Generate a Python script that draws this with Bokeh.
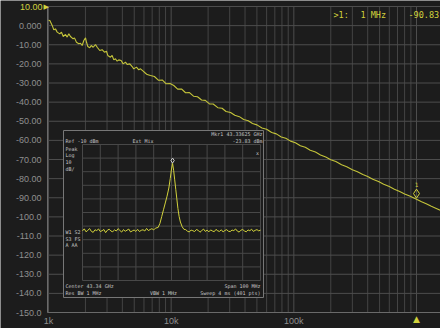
from bokeh.plotting import figure
from bokeh.models import Range1d, LinearScale, LogScale, FixedTicker, Label, LinearAxis, LogAxis
from bokeh.embed import file_html
from bokeh.resources import INLINE

# ---------------- data ----------------
# main trace: phase noise (dBc/Hz) versus offset frequency (Hz)
offset_hz = [1000, 1026, 1072, 1105, 1140, 1177, 1236, 1276, 1318, 1376, 1420, 1465, 1511,
             1588, 1629, 1690, 1766, 1822, 1882, 1941, 2004, 2042, 2091, 2172, 2229, 2313,
             2415, 2493, 2618, 2736, 2858, 2970, 3043, 3198, 3302, 3407, 3513, 3628, 3742,
             3909, 4063, 4246, 4375, 4600, 4806, 4955, 5212, 5445, 5623, 5915, 6180, 6374,
             6776, 7300, 7900, 8500, 9100, 9800, 10500, 11300, 12200, 13100, 14100, 15200,
             16400, 17700, 19000, 20500, 22000, 24000, 26000, 28000, 30500, 33000, 36000,
             39000, 42500, 46000, 50000, 55000, 60000, 66000, 72000, 79000, 86000, 94000,
             103000, 113000, 124000, 136000, 150000, 165000, 182000, 200000, 220000, 245000,
             270000, 300000, 330000, 365000, 400000, 440000, 490000, 540000, 600000, 660000,
             730000, 800000, 880000, 960000, 1000000, 1100000, 1200000, 1320000, 1450000,
             1600000]
noise_dbc = [2.8, 2.7, 0.1, -2.2, -1.7, -3.4, -4.3, -3.4, -5.7, -4.6, -6.0, -4.3, -5.7,
             -6.9, -6.4, -8.7, -9.5, -9.2, -10.4, -7.8, -6.4, -8.7, -10.9, -11.6, -10.4, -11.3,
             -9.9, -11.3, -13.0, -12.6, -13.9, -13.4, -15.6, -16.5, -15.6, -17.9, -17.3, -18.6, -17.9,
             -18.2, -20.0, -19.1, -20.3, -20.0, -21.4, -22.6, -21.7, -23.1, -22.6, -23.8, -24.9, -25.6,
             -26.1, -26.6, -28.6, -28.5, -30.4, -30.3, -31.3, -33.2, -33.2, -35.1, -35.0, -36.9,
             -37.2, -38.9, -39.1, -40.9, -41.0, -42.9, -43.2, -44.9, -45.4, -46.9, -47.6,
             -49.1, -49.7, -51.2, -51.9, -53.5, -54.2, -55.9, -56.6, -58.2, -58.9, -60.4,
             -61.2, -62.8, -63.6, -65.2, -66.1, -67.6, -68.7, -70.1, -71.1, -72.7,
             -73.8, -75.3, -76.4, -77.9, -78.9, -80.3, -81.5, -82.9, -84.1, -85.5,
             -86.7, -88.0, -89.1, -90.3, -90.83, -92.1, -93.1, -94.5, -95.6,
             -96.9]

y_ticks = [10, 0, -10, -20, -30, -40, -50, -60, -70, -80, -90, -100, -110, -120, -130, -140, -150]
y_tick_labels = ["", "0.000", "-10.00", "-20.00", "-30.00", "-40.00", "-50.00", "-60.00", "-70.00",
                 "-80.00", "-90.00", "-100.0", "-110.0", "-120.0", "-130.0", "-140.0", "-150.0"]
ref_level = 10
ref_label = "10.00"
x_ticks = [1000, 10000, 100000, 1000000]
x_tick_labels = ["1k", "10k", "100k", ""]

marker_freq = 1000000
marker_level = -90.83
readout = [">1:", "1 MHz", "-90.83"]

# inset: spectrum, offset from left edge of span (MHz) vs level (dBm)
floor_left_mhz = list(range(0, 42))
floor_left_dbm = [-73.5, -72.0, -74.2, -73.1, -71.8, -73.9, -74.6, -72.7, -73.3, -72.1,
                  -74.0, -73.4, -72.5, -74.8, -73.0, -72.3, -73.7, -74.1, -72.8, -73.6,
                  -71.9, -73.2, -74.4, -72.6, -73.8, -73.0, -72.2, -74.3, -73.5, -72.9,
                  -73.9, -72.4, -74.0, -73.1, -72.7, -73.6, -71.7, -73.3, -72.5, -71.9,
                  -72.8, -71.5]
peak_mhz_pts = [42.5, 43.5, 44.5, 45.5, 46.5, 47.5, 48.5, 49.3, 50.0, 50.6, 51.2, 51.8, 52.4,
                53.0, 53.6, 54.3, 55.0, 56.0, 57.0]
peak_dbm_pts = [-71.0, -68.0, -63.0, -58.0, -53.0, -48.0, -42.0, -35.0, -28.0, -23.83, -29.0,
                -36.0, -43.0, -50.0, -57.0, -63.0, -67.0, -70.5, -72.4]
floor_right_mhz = list(range(58, 101))
floor_right_dbm = [-72.6, -73.8, -74.3, -72.9, -73.4, -74.0, -72.5, -73.1, -74.5, -73.3,
                   -72.2, -73.9, -73.0, -74.2, -72.8, -73.6, -74.1, -72.4, -73.5, -73.9,
                   -72.7, -74.3, -73.2, -72.6, -73.8, -74.0, -72.9, -73.3, -72.1, -73.7,
                   -74.4, -73.0, -72.5, -73.6, -74.2, -72.8, -73.4, -72.3, -73.9, -73.1,
                   -72.6, -73.5, -73.0]
peak_mhz = 50.6
peak_dbm = -23.83
inset_ref_dbm = -10
inset_div_db = 10
inset_span_mhz = 100

spec_mhz = floor_left_mhz + peak_mhz_pts + floor_right_mhz
spec_dbm = floor_left_dbm + peak_dbm_pts + floor_right_dbm

# ---------------- layout ----------------
W, H = 440, 328
FL, FR, FT, FB = 47, 440, 6, 312      # plot area in pixels
X1K_PX, DECADE_PX = 48, 122.67
GL, GR, GT, GB = 82, 260, 144, 280    # inset graticule in pixels

BG = "#1c1c1c"
GRID = "#4d4d4d"
MINOR = "#444444"
YEL = "#d2d23c"
TRACE = "#c4c43a"
TXT = "#8f8f8f"
ITXT = "#c4c4c4"

y_top, y_bot = 10, -150


def mx(px):
    return 10 ** (3 + (px - X1K_PX) / DECADE_PX)


def my(py):
    return y_top - (py - FT) * (y_top - y_bot) / (FB - FT)


mhz_px = inset_span_mhz / (GR - GL)
db_px = 10 * inset_div_db / (GB - GT)


def ix(px):
    return (px - GL) * mhz_px


def iy(py):
    return inset_ref_dbm - (py - GT) * db_px


x_left, x_right = mx(FL), mx(FR)

# the frame covers the whole canvas; axes are pinned at the plot-area edges
p = figure(width=W, height=H, x_axis_type=None, y_axis_type=None,
           x_range=Range1d(mx(0), mx(W)), y_range=Range1d(my(H), my(0)),
           output_backend="svg", toolbar_location=None,
           min_border=0, min_border_left=0, min_border_right=0, min_border_top=0,
           min_border_bottom=0,
           background_fill_color=BG, border_fill_color=BG, outline_line_color=None)
p.x_scale = LogScale()
p.extra_x_ranges = {"ix": Range1d(ix(0), ix(W))}
p.extra_x_scales = {"ix": LinearScale()}
p.extra_y_ranges = {"iy": Range1d(iy(H), iy(0))}
p.extra_y_scales = {"iy": LinearScale()}

minor = [k * d for d in (1000, 10000, 100000, 1000000) for k in range(2, 10)]
minor_in = [m for m in minor if x_left <= m <= x_right]

# grid (restricted to the plot area)
p.segment(x0=minor_in, y0=[y_bot] * len(minor_in), x1=minor_in, y1=[y_top] * len(minor_in),
          line_color=MINOR, line_width=1)
p.segment(x0=x_ticks, y0=[y_bot] * len(x_ticks), x1=x_ticks, y1=[y_top] * len(x_ticks),
          line_color=GRID, line_width=1)
p.segment(x0=[x_left] * len(y_ticks), y0=y_ticks, x1=[x_right] * len(y_ticks), y1=y_ticks,
          line_color=GRID, line_width=1)


def style_axis(ax, color, size, standoff):
    ax.major_tick_out = 0
    ax.major_tick_in = 0
    ax.minor_tick_out = 0
    ax.minor_tick_in = 0
    ax.major_label_text_color = color
    ax.major_label_text_font = "Liberation Sans"
    ax.major_label_text_font_size = size
    ax.major_label_standoff = standoff
    return ax


xaxis = LogAxis(fixed_location=y_bot, bounds=(x_left, x_right),
                ticker=FixedTicker(ticks=x_ticks, minor_ticks=[]),
                major_label_overrides=dict(zip(x_ticks, x_tick_labels)),
                axis_line_color="#6a6a6a")
p.add_layout(style_axis(xaxis, TXT, "9px", 3), "below")
yaxis = LinearAxis(fixed_location=x_left, bounds=(y_bot, y_top),
                   ticker=FixedTicker(ticks=y_ticks, minor_ticks=[]),
                   major_label_overrides=dict(zip(y_ticks, y_tick_labels)),
                   axis_line_color="#6a6a6a")
p.add_layout(style_axis(yaxis, TXT, "9px", 6), "left")

# main trace
p.line(offset_hz, noise_dbc, line_color=TRACE, line_width=1.1)

# marker on trace
p.scatter([marker_freq], [marker_level + 3.0], marker="diamond", size=9,
          fill_color=None, line_color=YEL, line_width=1)
p.add_layout(Label(x=marker_freq, y=marker_level + 6.5, text="1", text_color=YEL,
                   text_font="DejaVu Sans Mono", text_font_size="6px",
                   text_align="center", text_baseline="bottom"))
p.add_layout(Label(x=marker_freq, y=my(318), text="\u25b2", text_color=YEL,
                   text_font="DejaVu Sans", text_font_size="9px",
                   text_align="center", text_baseline="middle"))

# reference level label and arrow
p.add_layout(Label(x=mx(42), y=ref_level, text=ref_label, text_color=YEL,
                   text_font="Liberation Sans", text_font_size="9px",
                   text_align="right", text_baseline="middle"))
p.add_layout(Label(x=mx(48.5), y=ref_level, text="\u25b6", text_color=YEL,
                   text_font="DejaVu Sans", text_font_size="7px",
                   text_align="right", text_baseline="middle"))

# marker readout
for t, px in zip(readout, (333, 360, 408)):
    p.add_layout(Label(x=mx(px), y=my(14), text=t, text_color=YEL,
                       text_font="DejaVu Sans Mono", text_font_size="8.5px",
                       text_align="left", text_baseline="middle"))

# ---------------- inset ----------------
p.quad(left=ix(63), right=ix(263), top=iy(130), bottom=iy(297),
       x_range_name="ix", y_range_name="iy",
       fill_color=BG, line_color="#777777", line_width=1)
gx = [inset_span_mhz * i / 10 for i in range(11)]
gy = [inset_ref_dbm - inset_div_db * i for i in range(11)]
p.segment(x0=gx, y0=[gy[0]] * 11, x1=gx, y1=[gy[-1]] * 11,
          x_range_name="ix", y_range_name="iy", line_color="#484848", line_width=1)
p.segment(x0=[gx[0]] * 11, y0=gy, x1=[gx[-1]] * 11, y1=gy,
          x_range_name="ix", y_range_name="iy", line_color="#484848", line_width=1)
p.line(spec_mhz, spec_dbm, x_range_name="ix", y_range_name="iy",
       line_color=YEL, line_width=1)
p.scatter([peak_mhz], [peak_dbm + 2], marker="diamond", size=5,
          x_range_name="ix", y_range_name="iy",
          fill_color=None, line_color="#cfcfcf", line_width=1)

inset_texts = [
    ("Ref -10 dBm", 65, 140, "left"),
    ("Ext Mix", 132, 140, "left"),
    ("Mkr1 43.33625 GHz", 262, 133, "right"),
    ("-23.83 dBm", 262, 140, "right"),
    ("Peak", 65, 148, "left"),
    ("Log", 65, 154, "left"),
    ("10", 65, 161, "left"),
    ("dB/", 65, 168, "left"),
    ("x", 257, 152, "center"),
    ("W1 S2", 65, 231, "left"),
    ("S3 FS", 65, 238, "left"),
    ("A  AA", 65, 244, "left"),
    ("Center 43.34 GHz", 65, 285, "left"),
    ("Span 100 MHz", 260, 285, "right"),
    ("Res BW 1 MHz", 65, 292, "left"),
    ("VBW 1 MHz", 163, 292, "center"),
    ("Sweep 4 ms (401 pts)", 260, 292, "right"),
]
for t, px, py, al in inset_texts:
    p.add_layout(Label(x=ix(px), y=iy(py), text=t, x_range_name="ix", y_range_name="iy",
                       text_color=ITXT, text_font="DejaVu Sans Mono", text_font_size="5px",
                       text_align=al, text_baseline="middle"))

open("out.html", "w").write(file_html(p, INLINE))
